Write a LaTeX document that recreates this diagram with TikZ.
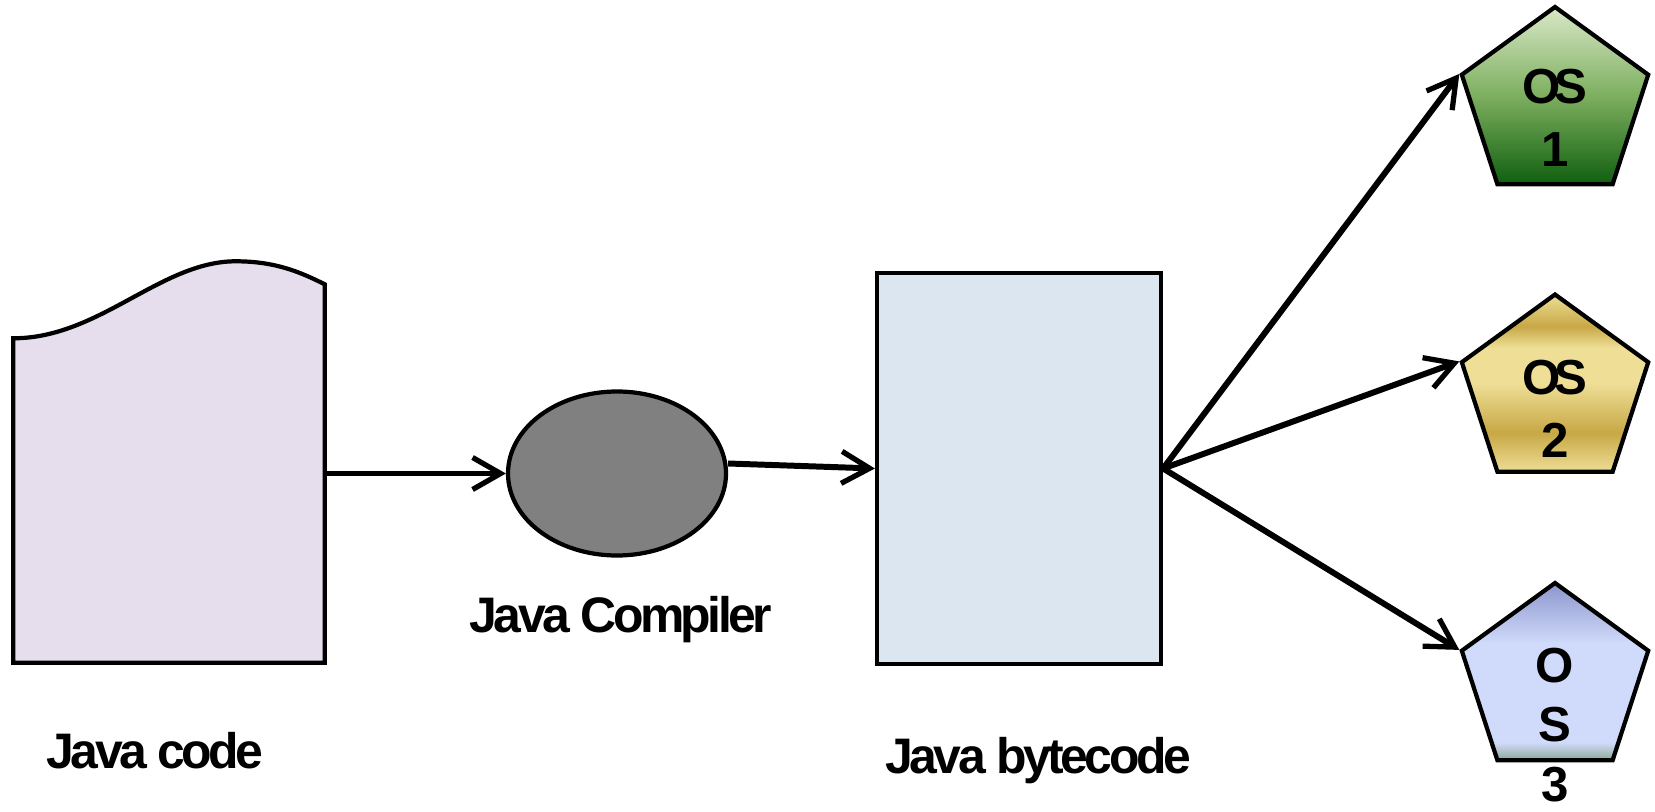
\documentclass[tikz,border=0pt]{standalone}
\usepackage{fontspec}
\setmainfont{Liberation Sans}
\usepackage{xcolor}
\usepackage{tikz}
\usetikzlibrary{positioning}
\usetikzlibrary{shapes.geometric}
\usetikzlibrary{arrows.meta}

\definecolor{docfill}{RGB}{230,222,236}
\definecolor{bytefill}{RGB}{220,230,240}
\definecolor{compfill}{RGB}{128,128,128}
\definecolor{osonetop}{RGB}{218,232,200}
\definecolor{osonemid}{RGB}{125,175,95}
\definecolor{osonebot}{RGB}{15,95,15}
\definecolor{ostwolight}{RGB}{238,222,150}
\definecolor{ostwodark}{RGB}{200,168,70}
\definecolor{osthreetop}{RGB}{140,150,205}
\definecolor{osthreemid}{RGB}{208,218,250}
\definecolor{osthreebot}{RGB}{140,168,150}

\pgfdeclareverticalshading{shadeosone}{100bp}{color(0bp)=(osonebot); color(25bp)=(osonebot);
  color(50bp)=(osonemid); color(75bp)=(osonetop); color(100bp)=(osonetop)}
\pgfdeclareverticalshading{shadeostwo}{100bp}{color(0bp)=(ostwolight); color(25bp)=(ostwolight);
  color(36bp)=(ostwodark); color(50bp)=(ostwolight); color(60bp)=(ostwolight);
  color(66bp)=(ostwodark); color(75bp)=(ostwolight); color(100bp)=(ostwolight)}
\pgfdeclareverticalshading{shadeosthree}{100bp}{color(0bp)=(osthreebot); color(25bp)=(osthreebot);
  color(30bp)=(osthreemid); color(58bp)=(osthreemid); color(75bp)=(osthreetop); color(100bp)=(osthreetop)}

\begin{document}
\begin{tikzpicture}[node distance=1cm,on grid,
      arr/.style={line width=1.7pt, -{Straight Barb[length=2.8mm,width=3.2mm,line width=1.5pt]}},
      box/.style={draw, line width=1.2pt},
      ospent/.style={box, regular polygon, regular polygon sides=5, minimum size=1.96cm, inner sep=0pt},
      ostext/.style={align=center, font=\fontsize{14}{18}\selectfont\bfseries\addfontfeatures{LetterSpace=-12}},
      lbl/.style={font=\fontsize{14.2}{17}\selectfont\bfseries\addfontfeatures{LetterSpace=-7}}]

      \useasboundingbox (-1.69,-3.375) rectangle ++(16.55,8.11);

      \node[minimum width=3.1cm, minimum height=3.77cm, inner sep=0pt] (code) {};
      \node[box, ellipse, fill=compfill, minimum width=2.18cm, minimum height=1.64cm] (comp) [right=of code, xshift=3.48cm] {};
      \node[box, fill=bytefill, minimum width=2.84cm, minimum height=3.91cm] (byte) [right=of comp, xshift=3.02cm, yshift=0.05cm] {};

      \node[ospent, shading=shadeosone] (os1) [right=of byte, xshift=4.36cm, yshift=3.635cm] {};
      \node[ospent, shading=shadeostwo] (os2) [right=of byte, xshift=4.36cm, yshift=0.76cm] {};
      \node[ospent, shading=shadeosthree] (os3) [right=of byte, xshift=4.36cm, yshift=-2.125cm] {};

      % outline of the source file
      \draw[box, fill=docfill] ([yshift=-0.54cm]code.north west)
        .. controls +(0.86,0) and +(-0.75,0) .. ([xshift=-0.89cm,yshift=0.23cm]code.north east)
        .. controls +(0.4,0) and +(-0.24,0.12) .. (code.north east)
        -- (code.south east) -- (code.south west) -- cycle;

      \node[ostext] (os1txt) [below=of os1, yshift=0.87cm] {OS\\1};
      \node[ostext] (os2txt) [below=of os2, yshift=0.84cm] {OS\\2};
      \node[ostext] (os3txt) [below=of os3, yshift=0.56cm] {O\\[-1pt]S\\[-1pt]3};

      \node[lbl] (codelbl) [below=of code, yshift=-1.775cm, xshift=-0.14cm] {Java code};
      \node[lbl] (complbl) [below=of comp, yshift=-0.46cm, xshift=0.04cm] {Java Compiler};
      \node[lbl] (bytelbl) [below=of byte, yshift=-1.925cm, xshift=0.19cm] {Java bytecode};

      \path[arr]
        (code.east) edge [] (comp.west)
        ([yshift=1mm]comp.east) edge [] (byte.west)
        (byte.east) edge [] (os1.corner 2)
        (byte.east) edge [] (os2.corner 2)
        (byte.east) edge [] (os3.corner 2)
        ;

\end{tikzpicture}
\end{document}
